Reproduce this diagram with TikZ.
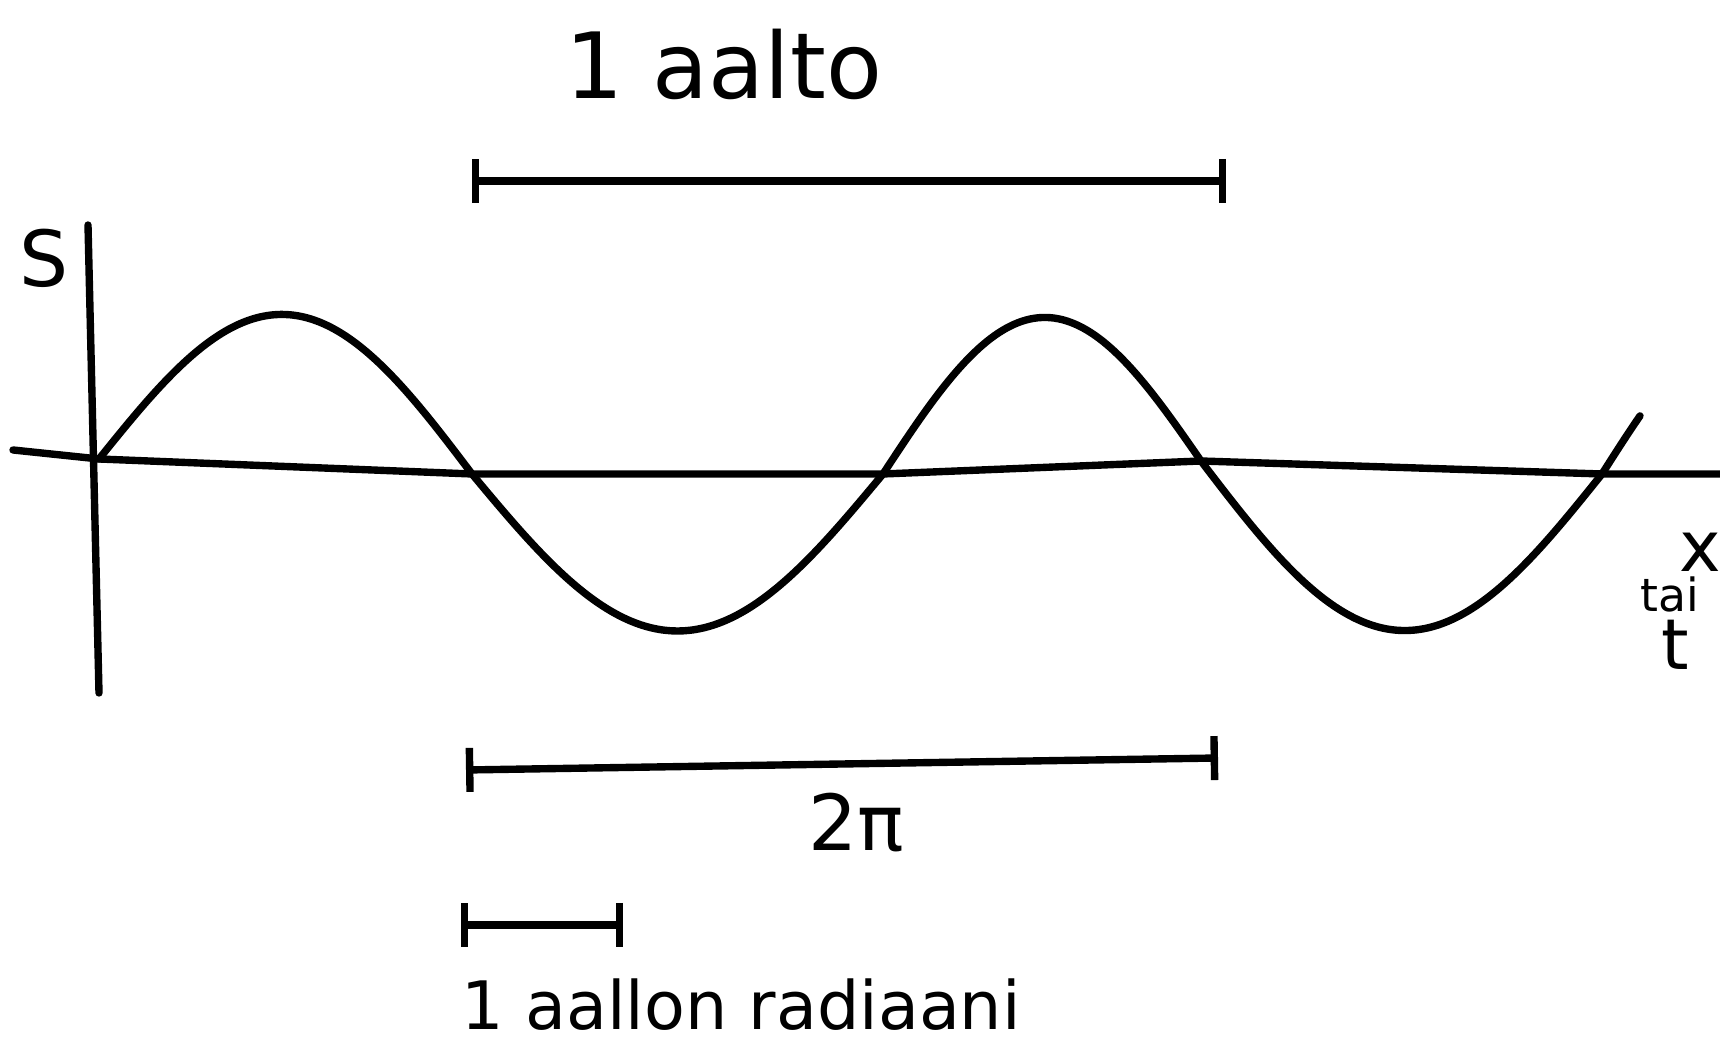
\documentclass[tikz,border=0pt]{standalone}
\usepackage{fontspec}
\setmainfont{DejaVu Sans}
\usepackage{tikz}
\usetikzlibrary{arrows.meta, positioning}

\begin{document}
\begin{tikzpicture}[
      pen/.style={line width=2.1pt, line cap=round, line join=round, black},
      dim/.style={pen, {Bar[width=4.4mm]}-{Bar[width=4.4mm]}},
      lbl/.style={font=\fontsize{22}{26}\selectfont, inner sep=0pt}
    ]
      \useasboundingbox (0,0) rectangle (17.2,-10.52);
      % axes
      \coordinate (o) at (0.99,-4.59);
      \coordinate (ytop) at (0.88,-2.25);
      \coordinate (ybot) at (0.99,-6.93);
      \coordinate (xleft) at (0.13,-4.50);
      \coordinate (xright) at (17.2,-4.74);
      \draw[pen] (ytop) -- (ybot);
      \draw[pen] (xleft) -- (o) -- (4.72,-4.74) -- (8.83,-4.74)
        -- (12.01,-4.61) -- (16.02,-4.74) -- (xright);
      \node[lbl] (s) at (0.44,-2.58) {S};
      \node[lbl, font=\fontsize{20}{24}\selectfont] (x) at (17.00,-5.52) {x};
      \node[lbl, font=\fontsize{13}{15}\selectfont] (tai) at (16.70,-5.94) {tai};
      \node[lbl, font=\fontsize{20}{24}\selectfont] (t) at (16.75,-6.45) {t};
      % wave, one half at a time
      \foreach \xa/\ya/\xb/\yb/\amp in {0.99/-4.59/4.72/-4.74/1.52,
          4.72/-4.74/8.83/-4.74/-1.57, 8.83/-4.74/12.01/-4.61/1.50,
          12.01/-4.61/16.02/-4.74/-1.63}
        \draw[pen] plot[domain=\xa:\xb, samples=40, smooth]
          (\x, {\ya + (\yb-\ya)*(\x-\xa)/(\xb-\xa) + \amp*sin(180*(\x-\xa)/(\xb-\xa))});
      \draw[pen] plot[domain=16.02:16.40, samples=10, smooth]
        (\x, {-4.74 + 1.5*sin(180*(\x-16.02)/3.0)});
      % one wave
      \coordinate (aa) at (4.72,-1.81);
      \coordinate (ab) at (12.26,-1.81);
      \draw[dim] (aa) -- (ab);
      \node[lbl, font=\fontsize{26}{30}\selectfont] (aalto) at (7.24,-0.64) {1 aalto};
      % 2 pi
      \coordinate (pa) at (4.66,-7.70);
      \coordinate (pb) at (12.18,-7.58);
      \draw[dim] (pa) -- (pb);
      \node[lbl] (twopi) at (8.56,-8.23) {2π};
      % one radian
      \coordinate (ra) at (4.61,-9.25);
      \coordinate (rb) at (6.23,-9.25);
      \draw[dim] (ra) -- (rb);
      \node[lbl, font=\fontsize{19}{22}\selectfont, anchor=west] (rad) at (4.61,-10.05) {1 aallon radiaani};
    \end{tikzpicture}
\end{document}
